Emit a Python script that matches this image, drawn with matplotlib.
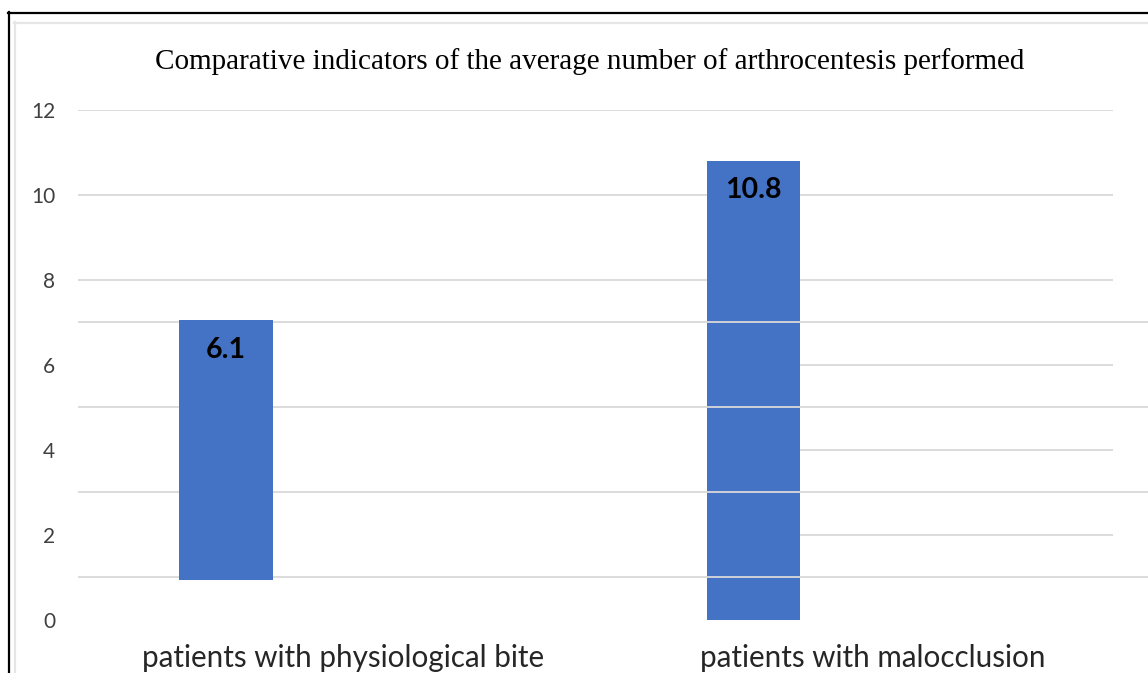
import numpy as np
import matplotlib
matplotlib.use('Agg')
from matplotlib import pyplot as plt
from matplotlib.lines import Line2D

# average number of arthrocentesis per group
categories = ['patients with physiological bite', 'patients with malocclusion']
values = [6.1, 10.8]
bases = [0.95, 0.0]
yticks = [0, 2, 4, 6, 8, 10, 12]

W, H = 1148, 673
fig = plt.figure(figsize=(W / 100, H / 100), dpi=100)
fig.patch.set_facecolor('white')

def fx(px):
    return px / W

def fy(py):
    return 1 - py / H

ax = fig.add_axes([fx(78), fy(620), fx(1113) - fx(78), fy(109.5) - fy(620)])
x = np.arange(len(categories))
bar_color = '#4472C4'
grid_color = '#d9d9d9'

ax.set_xlim(-0.2806, 1.6815)
ax.set_ylim(0, 12)

bars = ax.bar(x, values, bottom=bases, width=0.178, color=bar_color, zorder=2)
bars[0].set_zorder(4)

# main gridlines
ax.hlines([12, 10, 8], -0.2806, 1.6815, color=grid_color, lw=1.3, zorder=1)
ax.hlines([6, 4, 2], x[1], 1.6815, color=grid_color, lw=1.3, zorder=1)
# offset set of gridlines running to the right edge
ax.hlines([7, 5, 3, 1], -0.2806, 1.748, color=grid_color, lw=1.3, zorder=3, clip_on=False)

for b, v, base in zip(bars, values, bases):
    ax.annotate(f'{v:.1f}', (b.get_x() + b.get_width() / 2, base + v),
                xytext=(0, -12), textcoords='offset points', ha='center', va='top',
                fontsize=20.5, fontweight='bold', family='Lato', color='black', zorder=5)

ax.set_yticks(yticks)
ax.set_yticklabels([str(t) for t in yticks], family='Lato', fontsize=15, color='#404040')
ax.tick_params(axis='y', length=0, pad=16.5)
ax.set_xticks([])
for s in ax.spines.values():
    s.set_visible(False)

# category labels
label_x = [343, 873]
for lx, c in zip(label_x, categories):
    fig.text(fx(lx), fy(667), c, ha='center', va='baseline', fontsize=21.3, family='Lato', color='#262626')

fig.text(fx(590), fy(69), 'Comparative indicators of the average number of arthrocentesis performed',
         ha='center', va='baseline', fontsize=21, family='Liberation Serif', color='black')

# frame lines
fig.add_artist(Line2D([fx(8.5), fx(8.5)], [fy(12), fy(673)], color='black', lw=1.6))
fig.add_artist(Line2D([fx(8), fx(1148)], [fy(12.5), fy(12.5)], color='black', lw=1.6))
fig.add_artist(Line2D([fx(14.5), fx(14.5)], [fy(22), fy(673)], color='#e6e6e6', lw=1.6))
fig.add_artist(Line2D([fx(14), fx(1148)], [fy(22.5), fy(22.5)], color='#e6e6e6', lw=1.6))

fig.savefig('out.png', dpi=100)
